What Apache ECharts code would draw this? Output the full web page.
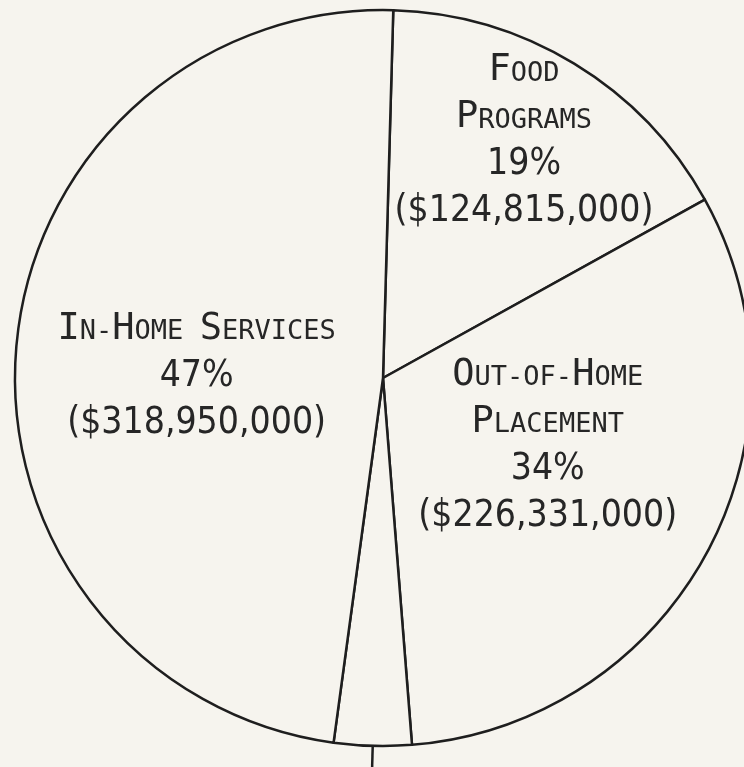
<!DOCTYPE html>
<html>
<head>
<meta charset="utf-8">
<script src="https://cdn.jsdelivr.net/npm/echarts@6/dist/echarts.min.js"></script>
<style>
html, body { margin: 0; padding: 0; background: #f6f4ee; }
#chart { width: 744px; height: 767px; }
</style>
</head>
<body>
<div id="chart"></div>
<script>
// slices in drawing order, clockwise from 12 o'clock
var names = ['Food\nPrograms', 'Out-of-Home\nPlacement', '', 'In-Home Services'];
var percents = ['19%', '34%', '', '47%'];
var dollars = ['($124,815,000)', '($226,331,000)', '', '($318,950,000)'];
// share of the circle each slice takes on the sheet
var drawnShare = [16.5, 31.8, 3.4, 48.3];

var ink = '#1e1e1e';
var textInk = '#262626';
var paper = '#f6f4ee';
var mono = "'DejaVu Sans Mono', monospace";
var narrow = "'DejaVu Sans Condensed', 'DejaVu Sans', sans-serif";

// upper case letters big, lower case letters as small caps
function smallCaps(text) {
	var out = '', cur = '', kind = '';
	for (var i = 0; i < text.length; i++) {
		var c = text[i];
		var k = (c >= 'A' && c <= 'Z') ? 'b' : 's';
		if (k !== kind && cur) {
			out += '{' + kind + '|' + cur + '}';
			cur = '';
		}
		kind = k;
		cur += c.toUpperCase();
	}
	if (cur) out += '{' + kind + '|' + cur + '}';
	return out;
}

function labelText(params) {
	var i = params.dataIndex;
	var lines = names[i].split('\n').map(smallCaps);
	lines.push('{n|' + percents[i] + '}');
	lines.push('{n|' + dollars[i] + '}');
	return lines.join('\n');
}

var rich = {
	b: { fontSize: 37, lineHeight: 47, fontFamily: mono, color: textInk, verticalAlign: 'bottom' },
	s: { fontSize: 27, lineHeight: 47, fontFamily: mono, color: textInk, verticalAlign: 'bottom', padding: [0, 0, 2, 0] },
	n: { fontSize: 37, lineHeight: 47, fontFamily: narrow, color: textInk, verticalAlign: 'bottom' }
};

function insideLabel(pad) {
	return { show: true, position: 'inside', formatter: labelText, rich: rich, align: 'center', padding: pad };
}

var pieCenter = [383, 378];
var pieRadius = 368;
var start = 88.4;

var option = {
	backgroundColor: paper,
	animation: false,
	series: [
		{
			type: 'pie',
			center: pieCenter,
			radius: [0, pieRadius],
			startAngle: start,
			clockwise: true,
			avoidLabelOverlap: false,
			silent: true,
			itemStyle: { color: paper, borderColor: ink, borderWidth: 2.5 },
			label: { show: false },
			labelLine: { show: false },
			data: drawnShare.map(function(v, i) {
				var item = { value: v, name: 'slice' + i };
				if (i === 1) item.label = insideLabel([0, 0, 52, 0]);
				if (i === 3) item.label = insideLabel([17, 0, 0, 0]);
				if (i === 2) {
					// leader running off the bottom of the sheet
					item.label = { show: true, position: 'outside', formatter: ' ' };
					item.labelLine = { show: true, length: 40, length2: 0, lineStyle: { color: ink, width: 2.5 } };
				}
				return item;
			})
		},
		{
			// carries only the food label, set further out than the others
			type: 'pie',
			center: pieCenter,
			radius: [192, pieRadius],
			startAngle: start,
			clockwise: true,
			avoidLabelOverlap: false,
			silent: true,
			itemStyle: { color: 'rgba(0,0,0,0)', borderWidth: 0 },
			labelLine: { show: false },
			label: { show: false },
			data: drawnShare.map(function(v, i) {
				var item = { value: v, name: 'slice' + i };
				if (i === 0) item.label = insideLabel([0, 12, 0, 0]);
				return item;
			})
		}
	]
};

echarts.init(document.getElementById('chart')).setOption(option);
</script>
</body>
</html>
